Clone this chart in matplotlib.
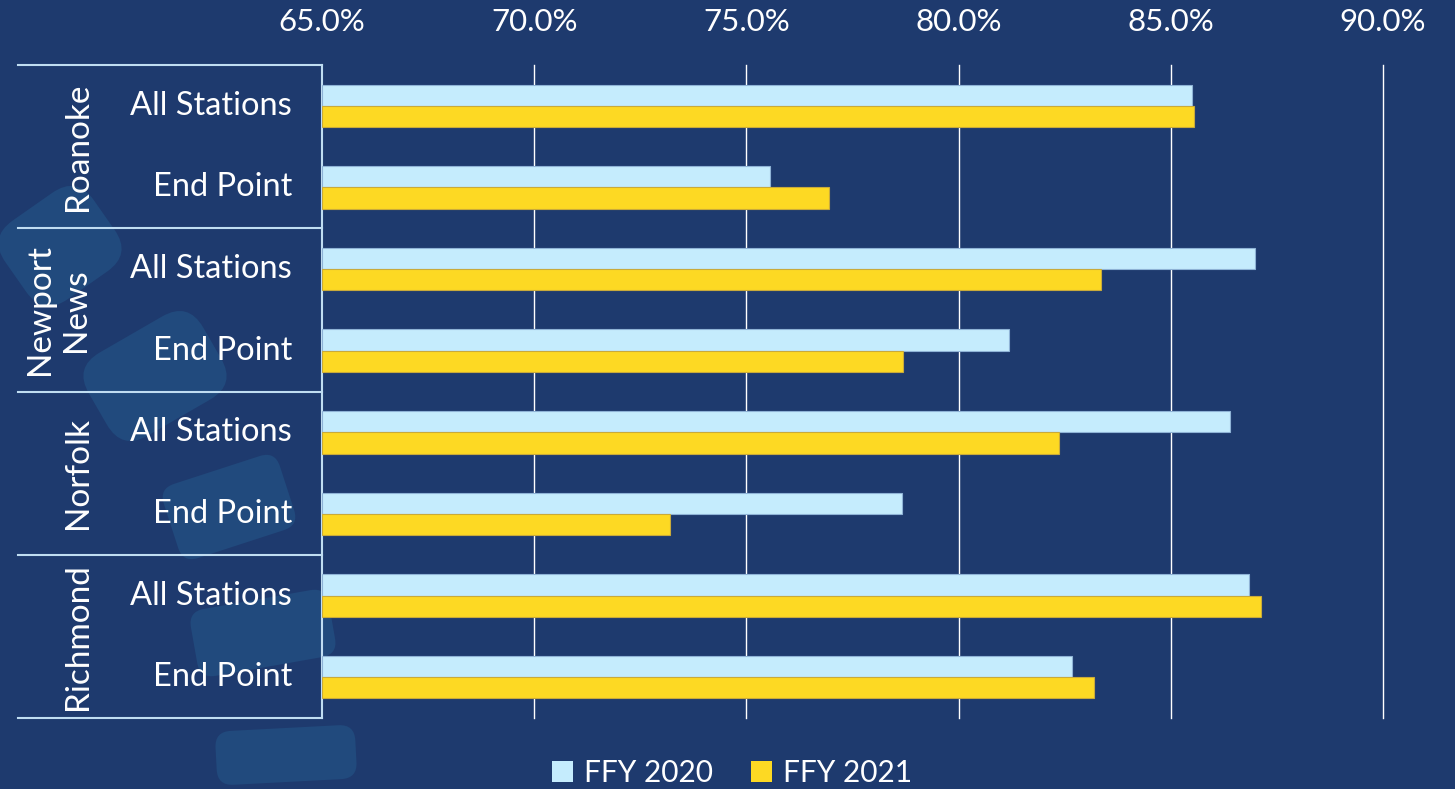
import matplotlib

matplotlib.use("Agg")
import matplotlib.pyplot as plt
from matplotlib.patches import FancyBboxPatch, Patch
from matplotlib.transforms import Affine2D, blended_transform_factory
import numpy as np

# data (percent)
regions = ["Roanoke", "Newport\nNews", "Norfolk", "Richmond"]
measures = ["All Stations", "End Point"]
ffy2020 = [85.5, 75.55, 86.98, 81.18, 86.39, 78.66, 86.85, 82.67]
ffy2021 = [85.55, 76.94, 83.35, 78.68, 82.37, 73.19, 87.12, 83.2]
xticks = [65, 70, 75, 80, 85, 90]

BG = "#1E3A6E"
SHAPE = "#214A7D"
LIGHT = "#C5ECFD"
YELLOW = "#FDD923"
LINE = "#C0DDF2"

plt.rcParams["font.family"] = ["Lato", "DejaVu Sans"]

W, H = 1455, 789
fig = plt.figure(figsize=(W / 100, H / 100), dpi=100, facecolor=BG)


def blob(cx, cy, w, h, ang, r=16):
    # decorative rounded shapes, given in image pixels (y down)
    y = H - cy
    tr = Affine2D().rotate_deg_around(cx, y, ang).scale(1 / W, 1 / H) + fig.transFigure
    p = FancyBboxPatch((cx - w / 2, y - h / 2), w, h,
                       boxstyle=f"round,pad=0,rounding_size={r}",
                       transform=tr, facecolor=SHAPE, edgecolor="none", zorder=-1)
    fig.add_artist(p)


blob(60, 246, 108, 96, 35, r=30)
blob(155, 376, 132, 96, 30, r=30)
blob(229, 507, 122, 78, 18)
blob(263, 633, 140, 68, 10)
blob(286, 755, 140, 54, 3)

ax = fig.add_axes([322 / W, 1 - 718 / H, (1383 - 322) / W, (718 - 65) / H])
ax.set_facecolor("none")

n = len(ffy2020)
y = np.arange(n)
h = 0.26
ax.barh(y - h / 2, [v - 65 for v in ffy2020], left=65, height=h, color=LIGHT,
        edgecolor="#8FB3D6", linewidth=0.8, zorder=3)
ax.barh(y + h / 2, [v - 65 for v in ffy2021], left=65, height=h, color=YELLOW,
        edgecolor="#C9AA3A", linewidth=0.8, zorder=3)

ax.set_xlim(65, 90)
ax.set_ylim(n - 0.5, -0.5)
ax.set_xticks(xticks)
ax.set_xticklabels([f"{t:.1f}%" for t in xticks])
ax.xaxis.tick_top()
ax.tick_params(axis="x", length=0, pad=21, labelsize=22.5, labelcolor="white")
ax.set_yticks([])
for t in xticks[1:]:
    ax.axvline(t, color="white", linewidth=1, zorder=1, clip_on=False)
for s in ["top", "right", "bottom"]:
    ax.spines[s].set_visible(False)
ax.spines["left"].set_color(LINE)
ax.spines["left"].set_linewidth(1.5)

# category / group labels on the left
px = 1 / (1383 - 322)
tr = blended_transform_factory(ax.transAxes, ax.transData)
for i in range(n):
    ax.text(-30 * px, i, measures[i % 2], transform=tr, ha="right", va="center",
            fontsize=23.5, color="white")
for g, name in enumerate(regions):
    yc = 2 * g + 0.5
    xc = 78 if "\n" not in name else 58
    ax.text((xc - 322) * px, yc, name, transform=tr, rotation=90, ha="center",
            va="center", fontsize=24, color="white", linespacing=1.25,
            multialignment="center")
for b in np.arange(-0.5, n, 2):
    ax.plot([(18 - 322) * px, 0], [b, b], transform=tr, color=LINE,
            linewidth=1.5, clip_on=False)

handles = [Patch(facecolor=LIGHT, label="FFY 2020"), Patch(facecolor=YELLOW, label="FFY 2021")]
fig.legend(handles=handles, loc="center", bbox_to_anchor=(732 / W, 1 - 773 / H), ncol=2,
           frameon=False, fontsize=21.5, labelcolor="white", handlelength=0.7,
           handleheight=0.7, handletextpad=0.35, columnspacing=1.3)

fig.savefig("out.png", dpi=100, facecolor=BG)
